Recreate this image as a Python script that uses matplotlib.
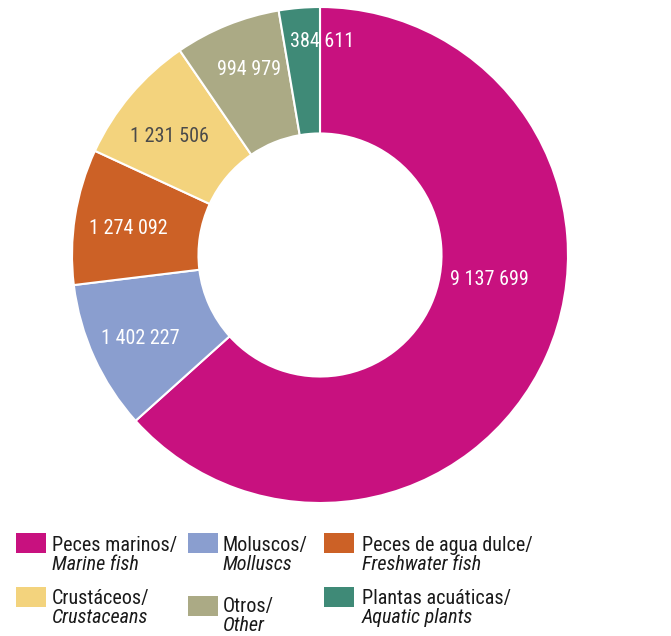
import matplotlib
matplotlib.use("Agg")
import matplotlib.pyplot as plt
from matplotlib.patches import Rectangle
import numpy as np

plt.rcParams['font.family'] = ['Roboto Condensed', 'Roboto', 'DejaVu Sans']

categories_es = ["Peces marinos/", "Moluscos/", "Peces de agua dulce/", "Crustáceos/", "Otros/", "Plantas acuáticas/"]
categories_en = ["Marine fish", "Molluscs", "Freshwater fish", "Crustaceans", "Other", "Aquatic plants"]
values = [9137699, 1402227, 1274092, 1231506, 994979, 384611]
value_labels = ["9 137 699", "1 402 227", "1 274 092", "1 231 506", "994 979", "384 611"]
colors = ["#C8117F", "#8A9ECF", "#CC6126", "#F3D37D", "#ABAA85", "#3F8A77"]
label_colors = ["white", "white", "white", "#4a4a4a", "white", "white"]
# label placement (angle in degrees, radius fraction)
label_angle = [-8.4, 205, 172, 141.8, 111, 89.5]
label_radius = [0.69, 0.80, 0.78, 0.77, 0.80, 0.86]

W, H = 671, 636
fig = plt.figure(figsize=(W/100, H/100), dpi=100)
cx, cy, R = 320, 255, 248
ax = fig.add_axes([(cx-R)/W, 1-(cy+R)/H, 2*R/W, 2*R/H])
ax.pie(values, colors=colors, startangle=90, counterclock=False, radius=1.0,
       wedgeprops=dict(width=0.51, edgecolor='white', linewidth=1.5))
ax.set_xlim(-1, 1); ax.set_ylim(-1, 1)
ax.set_aspect('equal')
ax.axis('off')

for lab, ang, r, c in zip(value_labels, label_angle, label_radius, label_colors):
    a = np.deg2rad(ang)
    ax.text(r*np.cos(a), r*np.sin(a), lab, ha='center', va='center', color=c, fontsize=14.5)

# legend drawn manually
col_x = [16, 188, 324]
text_x = [52, 223, 362]
patch_y = [533, 533, 533, 587, 596, 587]
base1 = [551, 551, 551, 604, 612, 604]
for i in range(len(values)):
    col = i % 3
    py = patch_y[i]
    fig.patches.append(Rectangle((col_x[col]/W, 1-(py+20)/H), 30/W, 20/H,
                                 transform=fig.transFigure, facecolor=colors[i], edgecolor='none'))
    fig.text(text_x[col]/W, 1-base1[i]/H, categories_es[i], ha='left', va='baseline',
             fontsize=14.5, color='#1a1a1a')
    fig.text(text_x[col]/W, 1-(base1[i]+19)/H, categories_en[i], ha='left', va='baseline',
             fontsize=14.5, style='italic', color='#1a1a1a')

fig.savefig("out.png", dpi=100, facecolor='white')
